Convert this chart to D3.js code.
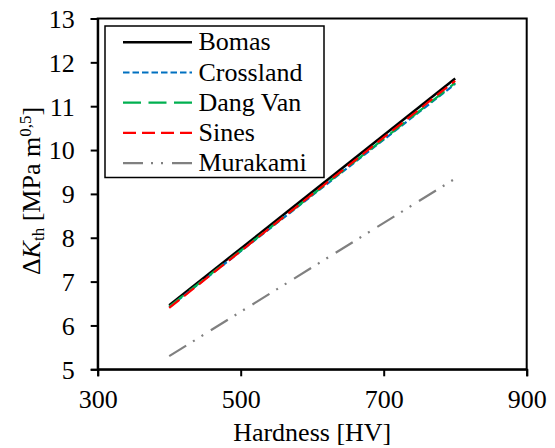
<!DOCTYPE html>
<html><head><meta charset="utf-8">
<script src="https://cdn.jsdelivr.net/npm/d3@7"></script>
<style>body{margin:0;background:#fff}svg{display:block}text{font-family:"Liberation Serif","Times New Roman",serif;fill:#000}</style>
</head><body>
<script>
const hardness = [400, 800];
const seriesNames = ["Bomas", "Crossland", "Dang Van", "Sines", "Murakami"];
const bomas = [6.46, 11.63];
const crossland = [6.42, 11.51];
const dangVan = [6.43, 11.53];
const sines = [6.40, 11.58];
const murakami = [5.30, 9.35];
const xTicks = [300, 500, 700, 900];
const yTicks = [5, 6, 7, 8, 9, 10, 11, 12, 13];

const FF = '"Liberation Serif","Times New Roman",serif';
const FS = 26;
const styles = [
  {color:"#000000", dash:null, w:2.5},
  {color:"#0070C0", dash:"6.5,3", w:2.2},
  {color:"#00B050", dash:"18,7.5", w:2.2},
  {color:"#FF0000", dash:"13,6", w:2.2},
  {color:"#808080", dash:"20,8,2,8,2,9", w:2.2}
];
const values = [bomas, crossland, dangVan, sines, murakami];

const W = 555, H = 448;
const L = 97.7, R = 526.7, T = 18.5, B = 369.3;
const svg = d3.select("body").append("svg").attr("width", W).attr("height", H)
  .attr("font-family", FF);
const x = d3.scaleLinear().domain([300, 900]).range([L, R]);
const y = d3.scaleLinear().domain([5, 13]).range([B, T]);

// frame
svg.append("rect").attr("x", L).attr("y", T).attr("width", R - L).attr("height", B - T)
  .attr("fill", "none").attr("stroke", "#000").attr("stroke-width", 2);

// axes
const xa = svg.append("g").attr("transform", `translate(0,${B})`)
  .call(d3.axisBottom(x).tickValues(xTicks).tickSize(7).tickFormat(d3.format("d")));
const ya = svg.append("g").attr("transform", `translate(${L},0)`)
  .call(d3.axisLeft(y).tickValues(yTicks).tickSize(7).tickPadding(16).tickFormat(d3.format("d")));
[xa, ya].forEach(g => {
  g.attr("font-family", FF).attr("font-size", FS);
  g.select(".domain").attr("stroke", "#000").attr("stroke-width", 2);
  g.selectAll(".tick line").attr("stroke", "#000").attr("stroke-width", 2);
  g.selectAll(".tick text").style("font-family", FF).style("font-size", FS + "px").attr("fill", "#000");
});
xa.selectAll(".tick text").attr("y", 408 - B).attr("dy", 0);
ya.selectAll(".tick text").attr("dy", "0.34em");

// lines
const line = d3.line().x((d, i) => x(hardness[i])).y(d => y(d));
values.forEach((v, k) => {
  svg.append("path").datum(v).attr("d", line).attr("fill", "none")
    .attr("stroke", styles[k].color).attr("stroke-width", styles[k].w)
    .attr("stroke-dasharray", styles[k].dash);
});

// legend
svg.append("rect").attr("x", 105).attr("y", 26).attr("width", 219).attr("height", 151.5)
  .attr("fill", "#fff").attr("stroke", "#000").attr("stroke-width", 1.5);
seriesNames.forEach((n, k) => {
  const yy = 42.3 + k * 30.2;
  svg.append("line").attr("x1", 123).attr("x2", 192).attr("y1", yy).attr("y2", yy)
    .attr("stroke", styles[k].color).attr("stroke-width", styles[k].w)
    .attr("stroke-dasharray", styles[k].dash);
  svg.append("text").attr("x", 198.5).attr("y", yy + 8).style("font-family", FF)
    .style("font-size", FS + "px").text(n);
});

// axis titles
svg.append("text").attr("x", (L + R) / 2).attr("y", 441).attr("text-anchor", "middle")
  .style("font-family", FF).style("font-size", FS + "px").text("Hardness [HV]");
const yt = svg.append("text").attr("transform", `translate(40,191) rotate(-90)`)
  .attr("text-anchor", "middle").style("font-family", FF).style("font-size", FS + "px");
yt.append("tspan").text("Δ");
yt.append("tspan").style("font-style", "italic").text("K");
yt.append("tspan").attr("dy", 4).style("font-size", "17px").text("th");
yt.append("tspan").attr("dy", -4).text(" [MPa m");
yt.append("tspan").attr("dy", -9).style("font-size", "17px").text("0,5");
yt.append("tspan").attr("dy", 9).text("]");
</script>
</body></html>
